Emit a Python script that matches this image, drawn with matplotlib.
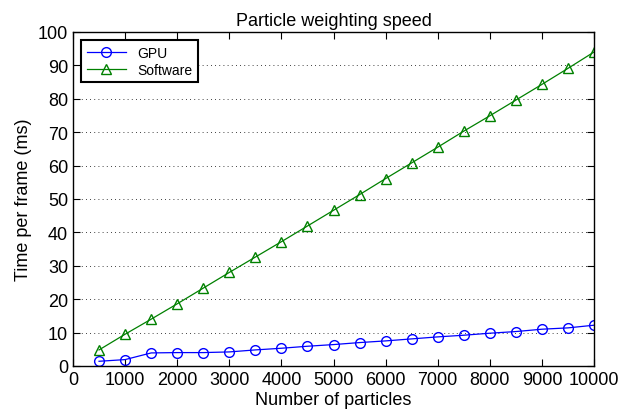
import matplotlib
matplotlib.use("Agg")
import matplotlib.pyplot as plt

plt.rcParams['font.family'] = ['Liberation Sans', 'DejaVu Sans']

# particle counts and timings (ms per frame)
particles = [500, 1000, 1500, 2000, 2500, 3000, 3500, 4000, 4500, 5000,
             5500, 6000, 6500, 7000, 7500, 8000, 8500, 9000, 9500, 10000]
gpu_ms = [1.4, 1.9, 3.9, 4.0, 4.0, 4.2, 4.8, 5.3, 5.9, 6.4,
          7.0, 7.5, 8.1, 8.7, 9.2, 9.8, 10.3, 11.0, 11.4, 12.2]
software_ms = [4.8, 9.5, 14.0, 18.6, 23.3, 28.0, 32.6, 37.2, 41.9, 46.6,
               51.3, 56.1, 60.8, 65.5, 70.3, 74.9, 79.6, 84.3, 89.1, 94.0]

fig = plt.figure(figsize=(6.27, 4.10), dpi=100)
ax = fig.add_axes([0.1164, 0.105, 0.831, 0.8146])

ax.plot(particles, gpu_ms, color='blue', marker='o', markersize=7,
        markerfacecolor='none', linewidth=0.9, label='GPU')
ax.plot(particles, software_ms, color='green', marker='^', markersize=7,
        markerfacecolor='none', linewidth=0.9, label='Software')

ax.set_xlim(0, 10000)
ax.set_ylim(0, 100)
ax.set_xticks(range(0, 10001, 1000))
ax.set_yticks(range(0, 101, 10))
ax.tick_params(direction='in', top=True, right=True, labelsize=13, length=5)
ax.yaxis.grid(True, linestyle=(0, (1, 4)), color='black', linewidth=0.6)
for s in ax.spines.values():
    s.set_linewidth(1.0)

ax.set_title('Particle weighting speed', fontsize=13, pad=5)
ax.set_xlabel('Number of particles', fontsize=13, labelpad=2)
ax.set_ylabel('Time per frame (ms)', fontsize=13)

leg = ax.legend(loc='upper left', fontsize=10, fancybox=False, framealpha=1,
                edgecolor='black', borderaxespad=0.6, handlelength=2.8,
                labelspacing=0.2, borderpad=0.4)
leg.get_frame().set_linewidth(1.5)

fig.savefig('out.png', dpi=100)
